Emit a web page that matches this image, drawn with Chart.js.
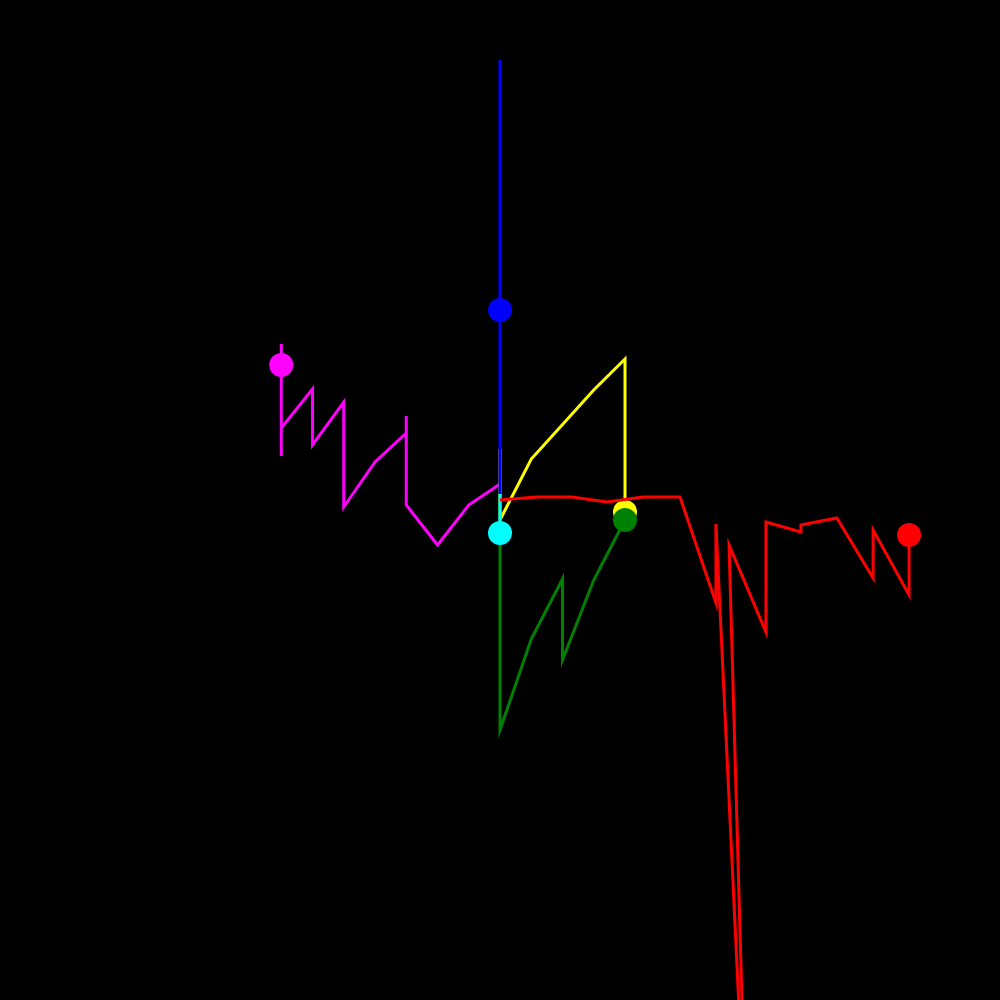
<!DOCTYPE html>
<html>
<head>
<meta charset="utf-8">
<script src="https://cdn.jsdelivr.net/npm/chart.js@4/dist/chart.umd.min.js"></script>
<style>
  html, body { margin: 0; padding: 0; background: #000; }
  #wrap { width: 1000px; height: 1000px; background: #000; }
</style>
</head>
<body>
<div id="wrap"><canvas id="c" width="1000" height="1000"></canvas></div>
<script>
// Series values (x = step, y = value)
const redX     = [0, 1.18, 2.3, 3.42, 4.58, 5.76, 6.91, 6.91, 7.9, 7.33, 8.51, 8.51, 9.63, 9.63, 10.78, 11.94, 11.94, 13.09, 13.09];
const redY     = [0, 0.3, 0.3, -0.2, 0.3, 0.3, -10.3, -2.4, -67.3, -4.5, -13.2, -2.2, -3.2, -2.5, -1.8, -7.8, -3.0, -9.5, -3.5];

const cyanX    = [0, 0];
const cyanY    = [0.6, -3.3];

const greenX   = [0, 0, 0, 0, 1, 2, 2, 3, 4];
const greenY   = [0.5, -12.0, -3.3, -23.0, -13.9, -7.9, -16.0, -8.0, -2.0];

const blueX    = [0, 0, 0];
const blueY    = [0.6, 44.0, 19.0];

const yellowX  = [0, 0, 0, 1, 3, 4, 4, 4, 4];
const yellowY  = [0.5, 5.1, -2.0, 4.1, 11.0, 14.1, 3.5, 7.3, -1.2];

const magentaX = [0, -1, -2, -3, -3, -3, -3, -4, -5, -5, -6, -6, -7, -7, -7, -7];
const magentaY = [1.6, -0.5, -4.5, -0.5, 8.4, 3.2, 6.7, 3.8, -0.7, 9.8, 5.5, 11.1, 7.2, 4.4, 15.6, 13.5];

function pts(xs, ys) { return xs.map((x, i) => ({ x: x, y: ys[i] })); }
function ds(label, xs, ys, color) {
  const radii = xs.map((_, i) => (i === xs.length - 1 ? 12 : 0));
  return {
    label: label,
    data: pts(xs, ys),
    showLine: true,
    borderColor: color,
    backgroundColor: color,
    borderWidth: 3,
    tension: 0,
    pointRadius: radii,
    pointHoverRadius: radii,
    pointBorderWidth: 0,
    pointBackgroundColor: color,
    pointBorderColor: color
  };
}

new Chart(document.getElementById('c'), {
  type: 'scatter',
  data: {
    datasets: [
      ds('red', redX, redY, '#ff0000'),
      ds('cyan', cyanX, cyanY, '#00ffff'),
      ds('green', greenX, greenY, '#008000'),
      ds('blue', blueX, blueY, '#0000ff'),
      ds('yellow', yellowX, yellowY, '#ffff00'),
      ds('magenta', magentaX, magentaY, '#ff00ff')
    ]
  },
  options: {
    responsive: false,
    animation: false,
    layout: { padding: 0, autoPadding: false },
    plugins: { legend: { display: false }, tooltip: { enabled: false } },
    scales: {
      x: { type: 'linear', min: -16, max: 16, display: false },
      y: { type: 'linear', min: -50, max: 50, display: false }
    }
  }
});
</script>
</body>
</html>
